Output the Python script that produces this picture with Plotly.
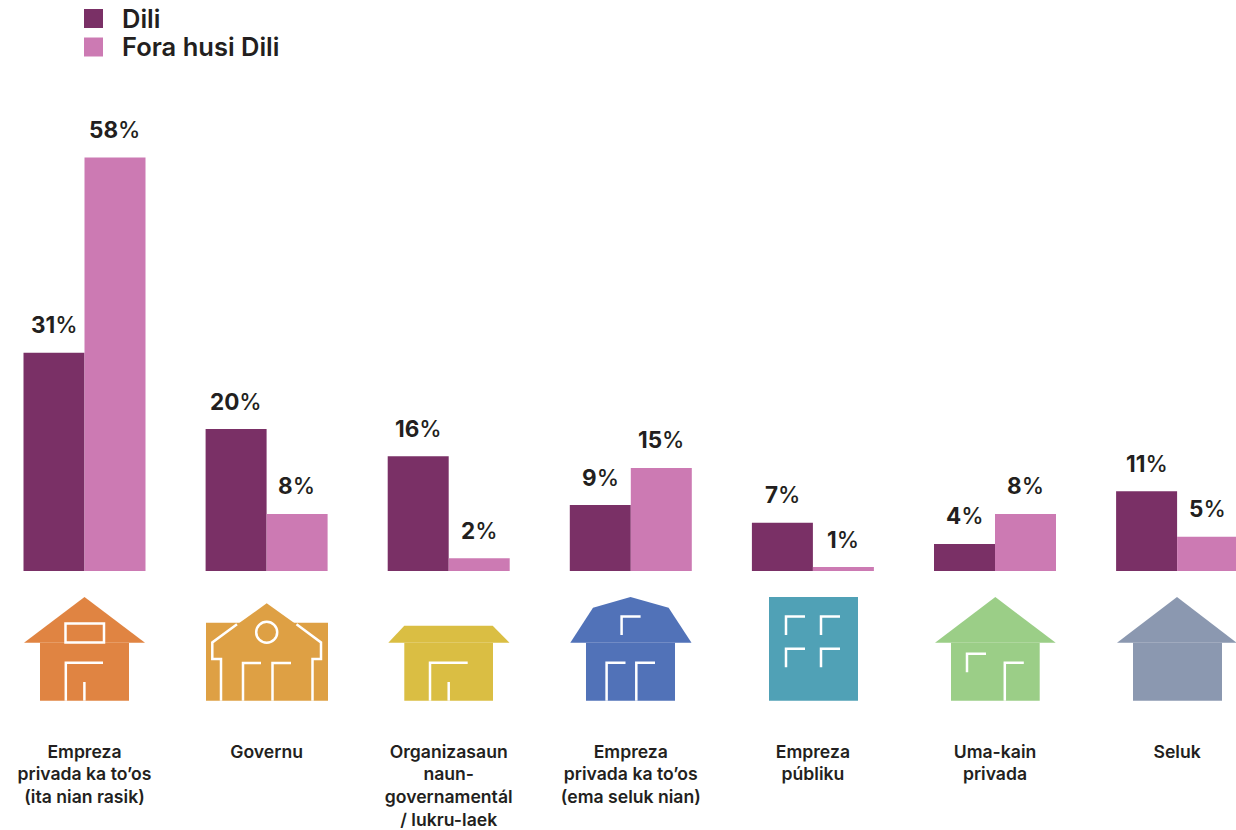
import plotly.graph_objects as go

categories = [
    "Empreza<br>privada ka to’os<br>(ita nian rasik)",
    "Governu",
    "Organizasaun<br>naun-<br>governamentál<br>/ lukru-laek",
    "Empreza<br>privada ka to’os<br>(ema seluk nian)",
    "Empreza<br>públiku",
    "Uma-kain<br>privada",
    "Seluk",
]
series_names = ["Dili", "Fora husi Dili"]
dili = [30.6, 19.9, 16.1, 9.25, 6.75, 3.8, 11.2]
fora = [58.0, 8.0, 1.8, 14.45, 0.55, 8.0, 4.8]
dili_labels = ["31%", "20%", "16%", "9%", "7%", "4%", "11%"]
fora_labels = ["58%", "8%", "2%", "15%", "1%", "8%", "5%"]
dili_color = "#7A3066"
fora_color = "#CC7AB3"
text_color = "#231F20"
icon_colors = ["#E08442", "#DEA044", "#DABE43", "#5172B8", "#50A1B6", "#9BCE87", "#8B98B0"]

W, H = 1236, 830
FONT = "Inter"
WEIGHT = 600


def px(x):
    return x / W


def py(y):
    return 1 - y / H


def poly(points, close=True):
    d = "M" + " L".join(f"{px(x):.5f},{py(y):.5f}" for x, y in points)
    return d + (" Z" if close else "")


shapes = []


def fill(points, color):
    shapes.append(dict(type="path", xref="paper", yref="paper", path=poly(points),
                       fillcolor=color, line=dict(width=0), layer="above"))


def stroke(points, close=False):
    shapes.append(dict(type="path", xref="paper", yref="paper", path=poly(points, close),
                       line=dict(color="white", width=2.5), layer="above"))


def box(x0, y0, x1, y1):
    return [(x0, y0), (x1, y0), (x1, y1), (x0, y1)]


TOP, EAVE, BASE = 597, 642.7, 700.7

# 1 orange house
c = icon_colors[0]
fill([(24, EAVE), (84.5, TOP), (145, EAVE)], c)
fill(box(40, EAVE, 129, BASE), c)
stroke(box(65.5, 623.5, 104, 642.5), True)
stroke([(65.8, BASE), (65.8, 662.7), (103, 662.7)])
stroke([(84.4, BASE), (84.4, 682)])

# 2 amber building
c = icon_colors[1]
fill(box(206, 622.7, 328, BASE), c)
fill([(212, 642.5), (266.7, 603.3), (321.5, 642.5)], c)
stroke([(221, BASE), (221, 659), (212.3, 659), (212.3, 642.5), (237, 624.3)])
stroke([(312.5, BASE), (312.5, 659), (321, 659), (321, 642.5), (296.5, 624.3)])
shapes.append(dict(type="circle", xref="paper", yref="paper",
                   x0=px(256.2), x1=px(277.2), y0=py(642.8), y1=py(621.8),
                   line=dict(color="white", width=2.5), layer="above"))
stroke([(243, BASE), (243, 663), (261, 663)])
stroke([(272.5, BASE), (272.5, 663), (291, 663)])

# 3 yellow building
c = icon_colors[2]
fill([(388.3, EAVE), (404.3, 625.7), (492.7, 625.7), (509.5, EAVE)], c)
fill(box(404.3, EAVE, 493, BASE), c)
stroke([(430, BASE), (430, 662.7), (467.7, 662.7)])
stroke([(448.7, BASE), (448.7, 682)])

# 4 blue barn
c = icon_colors[3]
fill([(570.3, EAVE), (593, 607.7), (630.5, TOP), (668.6, 607.7), (691.5, EAVE)], c)
fill(box(586, EAVE, 675, BASE), c)
stroke([(621.6, 635), (621.6, 616.5), (640.6, 616.5)])
stroke([(606.6, BASE), (606.6, 662.7), (625.5, 662.7)])
stroke([(636.3, BASE), (636.3, 662.7), (655, 662.7)])

# 5 teal tower
c = icon_colors[4]
fill(box(769, TOP, 858, BASE), c)
for xa, xb in [(786, 805), (821, 840)]:
    for ya, yb in [(635, 616.5), (667.3, 648.8)]:
        stroke([(xa, ya), (xa, yb), (xb, yb)])

# 6 green house
c = icon_colors[5]
fill([(935, EAVE), (995.3, TOP), (1055.7, EAVE)], c)
fill(box(951, EAVE, 1039.7, BASE), c)
stroke([(967, 672.3), (967, 653.8), (986, 653.8)])
stroke([(1004.8, BASE), (1004.8, 662.7), (1023.8, 662.7)])

# 7 grey house
c = icon_colors[6]
fill([(1117, EAVE), (1177, TOP), (1236.5, EAVE)], c)
fill(box(1133, EAVE, 1222, BASE), c)

# legend
annotations = []
for name, color, yc in zip(series_names, [dili_color, fora_color], [18.5, 47]):
    fill(box(84, yc - 9.5, 103, yc + 9.5), color)
    annotations.append(dict(xref="paper", yref="paper", x=px(119.5), y=py(yc), xanchor="left",
                            yanchor="middle", text=name, showarrow=False,
                            font=dict(family=FONT, size=25.5, color=text_color, weight=WEIGHT)))

fig = go.Figure()
for name, values, labels, color, off in [(series_names[0], dili, dili_labels, dili_color, -0.1665),
                                         (series_names[1], fora, fora_labels, fora_color, 0.1665)]:
    fig.add_bar(x=categories, y=values, name=name, marker=dict(color=color, line=dict(width=0)),
                hovertext=labels, hoverinfo="text+name", showlegend=False)
    for i, (v, lab) in enumerate(zip(values, labels)):
        annotations.append(dict(xref="x", yref="y", x=i + off, y=v, yshift=28, xanchor="center",
                                yanchor="middle", text=f"<b>{lab[:-1]}</b>%", showarrow=False,
                                font=dict(family=FONT, size=22.5, color=text_color, weight=500)))

PITCH = 182.1
ZERO_X = 84.5
PX_PER_UNIT = 7.13
BASELINE = 571

fig.update_layout(
    width=W, height=H, margin=dict(l=0, r=0, t=0, b=0, autoexpand=False),
    paper_bgcolor="white", plot_bgcolor="white", barmode="group",
    bargap=0.33, bargroupgap=0, showlegend=False,
    font=dict(family=FONT, color=text_color),
    xaxis=dict(type="category", categoryorder="array", categoryarray=categories,
               range=[-ZERO_X / PITCH, (W - ZERO_X) / PITCH], showgrid=False, zeroline=False,
               showline=False, ticks="", ticklabelstandoff=168, automargin=False, tickangle=0,
               tickfont=dict(family=FONT, size=17.6, color=text_color, weight=WEIGHT)),
    yaxis=dict(domain=[(H - BASELINE) / H, 1], range=[0, BASELINE / PX_PER_UNIT], visible=False),
    shapes=shapes, annotations=annotations,
)
fig.write_html("out.html", post_script="document.body.style.margin='0';",
               config={"displayModeBar": False})
